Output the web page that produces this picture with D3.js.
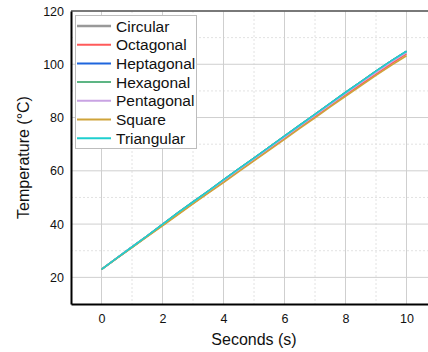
<!DOCTYPE html>
<html><head><meta charset="utf-8">
<script src="https://cdn.jsdelivr.net/npm/d3@7"></script>
<style>body{margin:0;background:#fff;}svg{display:block;font-family:"Liberation Sans",Arial,sans-serif;}</style>
</head><body>
<script>
const seriesNames = ["Circular","Octagonal","Heptagonal","Hexagonal","Pentagonal","Square","Triangular"];
const seriesColors = ["#999999","#ff5a5a","#1f66dd","#5db584","#c9a3e3","#cfa43a","#1fcfcf"];
const times = [0,0.5,1,1.5,2,2.5,3,3.5,4,4.5,5,5.5,6,6.5,7,7.5,8,8.5,9,9.5,10];
const circular   = [23,27.2,31.4,35.6,39.9,44.2,48.3,52.4,56.6,60.7,64.8,68.9,73.0,77.1,81.2,85.3,89.4,93.4,97.4,101.3,104.8];
const octagonal  = [23,27.1,31.3,35.4,39.5,43.7,47.8,51.8,55.9,60.0,64.0,68.1,72.2,76.3,80.4,84.4,88.5,92.4,96.3,100.2,103.9];
const heptagonal = [23,27.2,31.4,35.6,39.9,44.2,48.3,52.4,56.6,60.7,64.8,68.9,73.0,77.1,81.2,85.3,89.4,93.4,97.4,101.3,104.9];
const hexagonal  = [23,27.2,31.4,35.6,39.9,44.2,48.3,52.4,56.6,60.7,64.8,68.9,73.0,77.1,81.2,85.3,89.4,93.4,97.4,101.3,104.8];
const pentagonal = [23,27.2,31.4,35.5,39.7,43.9,48.0,52.1,56.2,60.3,64.4,68.5,72.6,76.7,80.8,84.9,89.0,93.0,96.9,100.8,104.4];
const square     = [23,27.1,31.2,35.3,39.3,43.5,47.6,51.6,55.6,59.7,63.7,67.8,71.8,75.9,79.9,84.0,88.0,91.9,95.8,99.6,103.2];
const triangular = [23,27.2,31.4,35.6,39.9,44.2,48.3,52.4,56.6,60.7,64.8,68.9,73.0,77.1,81.2,85.3,89.4,93.4,97.4,101.3,104.9];
const seriesValues = [circular,octagonal,heptagonal,hexagonal,pentagonal,square,triangular];
const xTicks = [0,2,4,6,8,10];
const yTicks = [20,40,60,80,100,120];
const xMinor = [1,3,5,7,9];
const yMinor = [30,50,70,90,110];

const W=428,H=352;
const svg=d3.select("body").append("svg").attr("width",W).attr("height",H);
const L=71,T=11,R=437,B=304;
const x=d3.scaleLinear().domain([-1,11]).range([L,R]);
const y=d3.scaleLinear().domain([10,120]).range([B,T]);

const g=svg.append("g");
g.selectAll(".mx").data(xMinor).join("line").attr("x1",d=>x(d)).attr("x2",d=>x(d)).attr("y1",T).attr("y2",B)
 .attr("stroke","#e2e2e2").attr("stroke-dasharray","2,2").attr("stroke-width",1);
g.selectAll(".my").data(yMinor).join("line").attr("y1",d=>y(d)).attr("y2",d=>y(d)).attr("x1",L).attr("x2",R)
 .attr("stroke","#e2e2e2").attr("stroke-dasharray","2,2").attr("stroke-width",1);
g.selectAll(".gx").data(xTicks).join("line").attr("x1",d=>x(d)).attr("x2",d=>x(d)).attr("y1",T).attr("y2",B)
 .attr("stroke","#cfcfcf").attr("stroke-width",1);
g.selectAll(".gy").data(yTicks).join("line").attr("y1",d=>y(d)).attr("y2",d=>y(d)).attr("x1",L).attr("x2",R)
 .attr("stroke","#cfcfcf").attr("stroke-width",1);

svg.append("line").attr("x1",L).attr("x2",R).attr("y1",T).attr("y2",T).attr("stroke","#555").attr("stroke-width",1.5);

const line=d3.line().x((d,i)=>x(times[i])).y(d=>y(d));
seriesValues.forEach((vals,k)=>{
  svg.append("path").attr("d",line(vals)).attr("fill","none").attr("stroke",seriesColors[k]).attr("stroke-width",1.6);
});

const xAxis=d3.axisBottom(x).tickValues(xTicks).tickSize(0).tickPadding(10).tickFormat(d3.format("d"));
const yAxis=d3.axisLeft(y).tickValues(yTicks).tickSize(0).tickPadding(7).tickFormat(d3.format("d"));
const gx=svg.append("g").attr("transform",`translate(0,${B})`).call(xAxis);
const gy=svg.append("g").attr("transform",`translate(${L},0)`).call(yAxis);
[gx,gy].forEach(a=>{a.select(".domain").attr("stroke","#000").attr("stroke-width",2);
  a.selectAll("text").attr("font-size",12.5).attr("fill","#111").attr("font-family","Liberation Sans, Arial, sans-serif");});

svg.append("text").attr("x",(L+R)/2).attr("y",345).attr("text-anchor","middle").attr("font-size",16).attr("fill","#111").text("Seconds (s)");
svg.append("text").attr("transform",`translate(29,${(T+B)/2}) rotate(-90)`).attr("text-anchor","middle").attr("font-size",16).attr("fill","#111").text("Temperature (°C)");

const lg=svg.append("g");
lg.append("rect").attr("x",75.5).attr("y",15.5).attr("width",121).attr("height",133).attr("fill","#fff").attr("stroke","#bdbdbd");
seriesNames.forEach((n,i)=>{
  const yy=26+i*18.7;
  lg.append("line").attr("x1",77).attr("x2",111).attr("y1",yy).attr("y2",yy).attr("stroke",seriesColors[i]).attr("stroke-width",i===0?2.5:2);
  lg.append("text").attr("x",116).attr("y",yy+5.5).attr("font-size",15.5).attr("fill","#111").text(n);
});
</script>
</body></html>
